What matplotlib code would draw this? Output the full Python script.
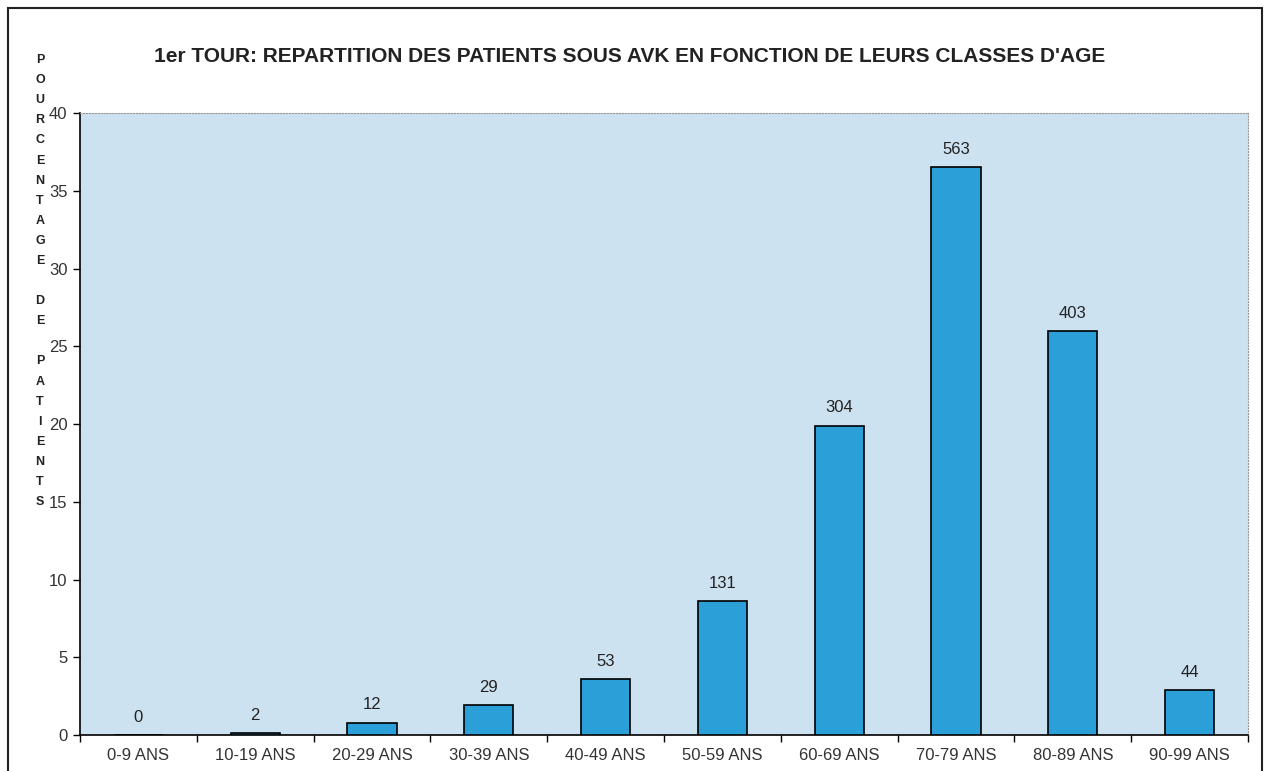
import numpy as np
import matplotlib.pyplot as plt
from matplotlib.patches import Rectangle

plt.rcParams['font.family'] = ['Liberation Sans', 'DejaVu Sans']

# données
classes = ['0-9 ANS', '10-19 ANS', '20-29 ANS', '30-39 ANS', '40-49 ANS',
           '50-59 ANS', '60-69 ANS', '70-79 ANS', '80-89 ANS', '90-99 ANS']
effectifs = [0, 2, 12, 29, 53, 131, 304, 563, 403, 44]
pourcentages = [0, 0.13, 0.8, 1.9, 3.6, 8.6, 19.9, 36.5, 26.0, 2.9]
yticks = [0, 5, 10, 15, 20, 25, 30, 35, 40]

fig = plt.figure(figsize=(12.68, 7.71), dpi=100)
fig.patch.set_facecolor('white')

# cadre extérieur
fig.patches.append(Rectangle((8 / 1268, -0.01), 1254 / 1268, 1 - 8 / 771 + 0.01,
                             transform=fig.transFigure, fill=False,
                             edgecolor='#222222', linewidth=1.5))

ax = fig.add_axes([80 / 1268, 1 - 735 / 771, 1168 / 1268, 622 / 771])
ax.set_facecolor('#cde2f0')

x = np.arange(len(classes))
bars = ax.bar(x, pourcentages, width=0.42, color='#2a9fd8',
              edgecolor='black', linewidth=1.2, zorder=3)

for xi, p, n in zip(x, pourcentages, effectifs):
    ax.text(xi, p + 0.65, str(n), ha='center', va='bottom', fontsize=12,
            color='#222222')

ax.set_xlim(-0.5, len(classes) - 0.5)
ax.set_ylim(0, 40)
ax.set_yticks(yticks)
ax.set_yticklabels([str(v) for v in yticks], fontsize=12, color='#333333')

ax.set_xticks(np.arange(-0.5, len(classes), 1.0))
ax.set_xticklabels([])
ax.set_xticks(x, minor=True)
ax.set_xticklabels(classes, minor=True, fontsize=12, color='#333333')
ax.tick_params(axis='x', which='major', length=5, direction='out', width=1)
ax.tick_params(axis='x', which='minor', length=0, pad=9)
ax.tick_params(axis='y', length=5, direction='out', width=1, pad=4)

for s in ['left', 'bottom']:
    ax.spines[s].set_color('black')
    ax.spines[s].set_linewidth(1.2)
for s in ['top', 'right']:
    ax.spines[s].set_color('#999999')
    ax.spines[s].set_linewidth(0.8)
    ax.spines[s].set_linestyle(':')

fig.text(630 / 1268, 1 - 57 / 771,
         "1er TOUR: REPARTITION DES PATIENTS SOUS AVK EN FONCTION DE LEURS CLASSES D'AGE",
         ha='center', va='center', fontsize=15, fontweight='bold', color='#222222')

ylabel = "P\nO\nU\nR\nC\nE\nN\nT\nA\nG\nE\n \nD\nE\n \nP\nA\nT\nI\nE\nN\nT\nS"
fig.text(40 / 1268, 1 - 54 / 771, ylabel, ha='center', va='top', fontsize=9,
         fontweight='bold', color='#222222', linespacing=1.9)

fig.savefig('out.png', dpi=100)
